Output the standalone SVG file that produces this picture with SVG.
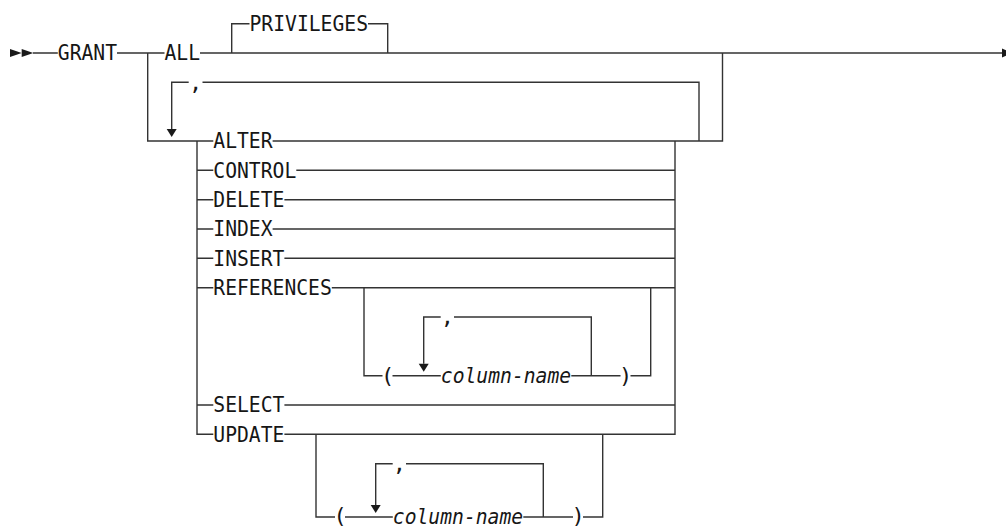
<svg xmlns="http://www.w3.org/2000/svg" width="1006" height="529" viewBox="0 0 1006 529">
<defs>
<style>
.ln{fill:none;stroke:#333333;stroke-width:1.4;stroke-linecap:butt;stroke-linejoin:miter}
.ah{fill:#1a1a1a;stroke:none}
.t{font-family:"DejaVu Sans Mono","Liberation Mono",monospace;font-size:22px;fill:#161616}
.i{font-style:italic}
.c{text-anchor:middle}
</style>
</defs>
<rect width="1006" height="529" fill="#ffffff"/>
<g id="connectors">
<polygon class="ah" points="10,49 21.7,53 10,57"/>
<polygon class="ah" points="21.7,49 33.3,53 21.7,57"/>
<path class="ln" d="M33,53 H57.8 M117,53 H164.5 M200,53 H1002"/>
<path class="ln" d="M231.7,53 V23.7 H249.5 M368,23.7 H387.7 V53"/>
<path class="ln" d="M147.7,53 V141 H213.3 M272.6,141 H722.5 V53"/>
<path class="ln" d="M171.7,129 V82.3 H188.7 M202.5,82.3 H699 V141"/>
<polygon class="ah" points="166.7,129 176.7,129 171.7,137"/>
<path class="ln" d="M197,141 V434.3 H213.3 M675,141 V434.3 H284.4"/>
<path class="ln" d="M197,170.3 H213.3 M296.3,170.3 H675"/>
<path class="ln" d="M197,199.7 H213.3 M284.4,199.7 H675"/>
<path class="ln" d="M197,229 H213.3 M272.6,229 H675"/>
<path class="ln" d="M197,258.3 H213.3 M284.4,258.3 H675"/>
<path class="ln" d="M197,287.7 H213.3 M331.8,287.7 H675"/>
<path class="ln" d="M197,405 H213.3 M284.4,405 H675"/>
<path class="ln" d="M364,287.7 V375.7 H382.5 M392.5,375.7 H440.8 M571.3,375.7 H620.5 M630.5,375.7 H650.7 V287.7"/>
<path class="ln" d="M423.7,363.7 V317 H440.7 M454,317 H591.3 V375.7"/>
<polygon class="ah" points="418.7,363.7 428.7,363.7 423.7,371.7"/>
<path class="ln" d="M316,434.3 V517 H335 M345,517 H392.8 M523.3,517 H573 M583,517 H602.7 V434.3"/>
<path class="ln" d="M375.7,505 V463.7 H392.7 M406,463.7 H543.3 V517"/>
<polygon class="ah" points="370.7,505 380.7,505 375.7,513"/>
<polygon class="ah" points="1002,48.5 1012,53 1002,57.5"/>
</g>
<g id="n-grant"><text class="t" x="57.8" y="60.3" textLength="59.25" lengthAdjust="spacingAndGlyphs">GRANT</text></g>
<g id="n-all"><text class="t" x="164.5" y="60.3" textLength="35.55" lengthAdjust="spacingAndGlyphs">ALL</text></g>
<g id="n-privileges"><text class="t" x="249.5" y="31" textLength="118.5" lengthAdjust="spacingAndGlyphs">PRIVILEGES</text></g>
<g id="n-comma1"><text class="t c" x="195.5" y="89.6">,</text></g>
<g id="n-alter"><text class="t" x="213.3" y="148.3" textLength="59.25" lengthAdjust="spacingAndGlyphs">ALTER</text></g>
<g id="n-control"><text class="t" x="213.3" y="177.6" textLength="82.95" lengthAdjust="spacingAndGlyphs">CONTROL</text></g>
<g id="n-delete"><text class="t" x="213.3" y="207" textLength="71.1" lengthAdjust="spacingAndGlyphs">DELETE</text></g>
<g id="n-index"><text class="t" x="213.3" y="236.3" textLength="59.25" lengthAdjust="spacingAndGlyphs">INDEX</text></g>
<g id="n-insert"><text class="t" x="213.3" y="265.6" textLength="71.1" lengthAdjust="spacingAndGlyphs">INSERT</text></g>
<g id="n-references"><text class="t" x="213.3" y="295" textLength="118.5" lengthAdjust="spacingAndGlyphs">REFERENCES</text></g>
<g id="n-comma2"><text class="t c" x="447.4" y="324.3">,</text></g>
<g id="n-lparen1"><text class="t c" x="387.5" y="383">(</text></g>
<g id="n-colname1"><text class="t i" x="440.8" y="383" textLength="130.35" lengthAdjust="spacingAndGlyphs">column-name</text></g>
<g id="n-rparen1"><text class="t c" x="625.5" y="383">)</text></g>
<g id="n-select"><text class="t" x="213.3" y="412.3" textLength="71.1" lengthAdjust="spacingAndGlyphs">SELECT</text></g>
<g id="n-update"><text class="t" x="213.3" y="441.6" textLength="71.1" lengthAdjust="spacingAndGlyphs">UPDATE</text></g>
<g id="n-comma3"><text class="t c" x="399.4" y="471">,</text></g>
<g id="n-lparen2"><text class="t c" x="340" y="523.3">(</text></g>
<g id="n-colname2"><text class="t i" x="392.8" y="523.6" textLength="130.35" lengthAdjust="spacingAndGlyphs">column-name</text></g>
<g id="n-rparen2"><text class="t c" x="578" y="523.3">)</text></g>
</svg>
